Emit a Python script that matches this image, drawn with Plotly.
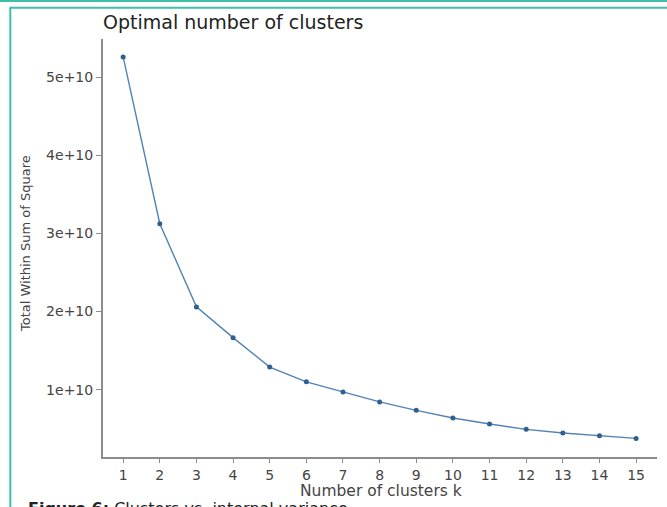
import plotly.graph_objects as go

k_values = list(range(1, 16))
wss = [5.26e10, 3.125e10, 2.06e10, 1.666e10, 1.29e10, 1.10e10, 0.971e10, 0.843e10,
       0.735e10, 0.638e10, 0.561e10, 0.492e10, 0.446e10, 0.411e10, 0.376e10]
y_tickvals = [1e10, 2e10, 3e10, 4e10, 5e10]
y_ticktext = ["1e+10", "2e+10", "3e+10", "4e+10", "5e+10"]

W, H = 667, 507
L, R, T, B = 103, 657, 39, 457
PW, PH = R - L, B - T


def px(x):
    return (x - L) / PW


def py(y):
    return (B - y) / PH


fig = go.Figure()
fig.add_trace(go.Scatter(
    x=k_values, y=wss, mode="lines+markers",
    line=dict(color="#5283b3", width=1.4),
    marker=dict(color="#2f5f8f", size=5),
    showlegend=False,
))

tick_font = dict(family="DejaVu Sans", size=14, color="#444444")
teal = "#3dbfa8"

fig.update_layout(
    width=W, height=H, autosize=False,
    margin=dict(l=L, r=W - R, t=T, b=H - B),
    paper_bgcolor="white", plot_bgcolor="white",
    xaxis=dict(
        range=[0.45, 15.57], tickmode="array", tickvals=k_values,
        ticktext=[str(k) for k in k_values],
        showgrid=False, zeroline=False,
        showline=True, linecolor="#8c8c8c", linewidth=2,
        ticks="outside", ticklen=4, tickcolor="#8c8c8c", tickwidth=1,
        tickfont=tick_font, ticklabelstandoff=0,
    ),
    yaxis=dict(
        range=[1.38e9, 5.49e10], tickmode="array", tickvals=y_tickvals,
        ticktext=y_ticktext,
        showgrid=False, zeroline=False,
        showline=True, linecolor="#8c8c8c", linewidth=2,
        ticks="outside", ticklen=5, tickcolor="#8c8c8c", tickwidth=1,
        tickfont=tick_font,
    ),
    annotations=[
        dict(text="Optimal number of clusters", xref="paper", yref="paper",
             x=px(101), y=py(22), xanchor="left", yanchor="middle",
             showarrow=False,
             font=dict(family="DejaVu Sans", size=19, color="#222222")),
        dict(text="Total Within Sum of Square", xref="paper", yref="paper",
             x=px(26), y=py(244), xanchor="center", yanchor="middle",
             textangle=-90, showarrow=False,
             font=dict(family="DejaVu Sans", size=13, color="#444444")),
        dict(text="Number of clusters k", xref="paper", yref="paper",
             x=px(381), y=py(491), xanchor="center", yanchor="middle",
             showarrow=False,
             font=dict(family="DejaVu Sans", size=15.5, color="#444444")),
        dict(text="<b>Figure 6:</b> Clusters vs. internal variance",
             xref="paper", yref="paper",
             x=px(26), y=py(497), xanchor="left", yanchor="top",
             showarrow=False,
             font=dict(family="DejaVu Sans", size=16, color="#222222")),
    ],
    shapes=[
        dict(type="line", xref="paper", yref="paper",
             x0=px(0), x1=px(W), y0=py(1), y1=py(1),
             line=dict(color=teal, width=2)),
        dict(type="line", xref="paper", yref="paper",
             x0=px(9.5), x1=px(W), y0=py(7.8), y1=py(7.8),
             line=dict(color=teal, width=2)),
        dict(type="line", xref="paper", yref="paper",
             x0=px(10.3), x1=px(10.3), y0=py(7.8), y1=py(H),
             line=dict(color=teal, width=2)),
    ],
)

fig.write_html(
    "out.html",
    config={"displayModeBar": False},
    post_script="document.body.style.margin='0';document.body.style.padding='0';"
                "document.body.style.overflow='hidden';",
)
